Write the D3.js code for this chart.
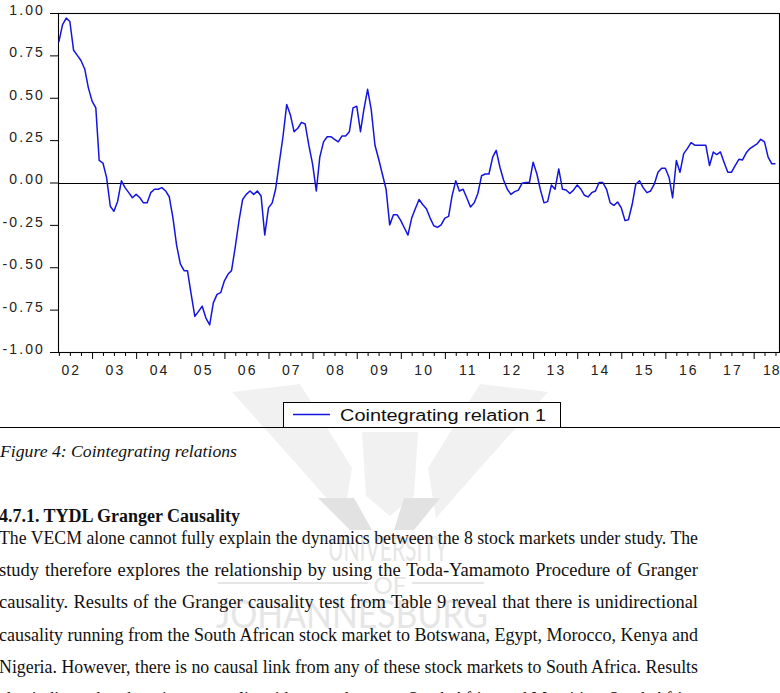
<!DOCTYPE html>
<html><head><meta charset="utf-8">
<script src="https://cdn.jsdelivr.net/npm/d3@7"></script>
<style>body{margin:0;background:#fff;overflow:hidden} svg{display:block}</style>
</head><body>
<svg id="c" width="780" height="693"></svg>
<script>
// ---- data (monthly observations, first = 2002M04) ----
const firstObs = [2002, 4];
const values = [
 0.83,0.93,0.97,0.95,0.78,0.75,0.72,0.67,0.56,0.48,0.44,0.13,
 0.115,0.03,-0.14,-0.17,-0.11,0.01,-0.03,-0.06,-0.09,-0.07,-0.09,-0.12,
 -0.12,-0.06,-0.04,-0.04,-0.03,-0.05,-0.084,-0.21,-0.37,-0.48,-0.52,-0.52,
 -0.66,-0.79,-0.76,-0.73,-0.80,-0.84,-0.71,-0.66,-0.65,-0.58,-0.54,-0.52,
 -0.38,-0.23,-0.10,-0.07,-0.05,-0.07,-0.05,-0.08,-0.31,-0.15,-0.12,-0.04,
 0.12,0.27,0.46,0.40,0.30,0.32,0.355,0.345,0.22,0.11,-0.05,0.15,
 0.24,0.27,0.27,0.255,0.24,0.275,0.275,0.30,0.44,0.45,0.30,0.43,
 0.55,0.43,0.22,0.14,0.05,-0.04,-0.25,-0.19,-0.19,-0.225,-0.27,-0.31,
 -0.21,-0.155,-0.10,-0.13,-0.155,-0.21,-0.255,-0.265,-0.25,-0.21,-0.20,-0.08,
 0.01,-0.05,-0.04,-0.09,-0.145,-0.12,-0.065,0.04,0.05,0.05,0.15,0.19,
 0.09,0.015,-0.04,-0.07,-0.054,-0.045,-0.005,0.00,0.00,0.12,0.05,-0.04,
 -0.12,-0.113,-0.015,-0.04,0.08,-0.04,-0.044,-0.065,-0.045,-0.015,-0.04,-0.075,
 -0.085,-0.06,-0.05,0.00,0.00,-0.04,-0.12,-0.135,-0.115,-0.15,-0.225,-0.22,
 -0.13,-0.01,0.01,-0.03,-0.06,-0.05,-0.01,0.06,0.084,0.084,0.03,-0.09,
 0.13,0.06,0.17,0.20,0.235,0.22,0.22,0.22,0.22,0.10,0.18,0.165,
 0.18,0.12,0.06,0.06,0.10,0.137,0.133,0.175,0.20,0.215,0.23,0.255,
 0.24,0.15,0.11,0.11
];
const yTicks = [1.00, 0.75, 0.50, 0.25, 0.00, -0.25, -0.50, -0.75, -1.00];
const yearLabels = ["02","03","04","05","06","07","08","09","10","11","12","13","14","15","16","17","18"];
const seriesName = "Cointegrating relation 1";
const caption = "Figure 4: Cointegrating relations";
const heading = "4.7.1. TYDL Granger Causality";
const paragraph = [
 "The VECM alone cannot fully explain the dynamics between the 8 stock markets under study. The",
 "study therefore explores the relationship by using the Toda-Yamamoto Procedure of Granger",
 "causality. Results of the Granger causality test from Table 9 reveal that there is unidirectional",
 "causality running from the South African stock market to Botswana, Egypt, Morocco, Kenya and",
 "Nigeria. However, there is no causal link from any of these stock markets to South Africa. Results",
 "also indicate that there is no causality either way between South Africa and Mauritius. South Africa"
];
const watermark = ["UNIVERSITY", "OF", "JOHANNESBURG"];

// ---- build ----
const svg = d3.select("#c");
const series = values.map((v, i) => ({date: new Date(firstObs[0], firstObs[1] - 1 + i, 1), v}));

const plot = {left: 58, right: 779, top: 13, bottom: 352};
const x = d3.scaleTime()
  .domain([new Date(2002, 0, 1), new Date(2019, 0, 1)])
  .range([48, 48 + 17 * 44.1]);
const y = d3.scaleLinear().domain([-1, 1]).range([plot.bottom, plot.top]);

// watermark (behind everything)
const wm = svg.append("g").attr("fill", "#e6e6e6").attr("font-family", "Lato, 'Open Sans', sans-serif");
wm.append("path").attr("fill", "#f1f1f1")
  .attr("d", "M232,392 L300,384 L352,468 L344,518 L300,468 Z M548,392 L480,384 L428,468 L436,518 L480,468 Z M362,432 L418,432 L414,496 L390,516 L366,496 Z");
wm.append("path").attr("fill", "#e2e2e2")
  .attr("d", "M318,498 L354,498 L372,530 L350,530 Z M404,498 L440,498 L414,530 L394,530 Z");
wm.append("text").attr("x", 388).attr("y", 561).attr("text-anchor", "middle")
  .attr("font-size", 34).attr("textLength", 120).attr("lengthAdjust", "spacingAndGlyphs").text(watermark[0]);
wm.append("text").attr("x", 390).attr("y", 594).attr("text-anchor", "middle")
  .attr("font-size", 24).text(watermark[1]);
wm.append("rect").attr("x", 218).attr("y", 582).attr("width", 150).attr("height", 2);
wm.append("rect").attr("x", 412).attr("y", 582).attr("width", 72).attr("height", 2);
wm.append("text").attr("x", 352).attr("y", 628).attr("text-anchor", "middle")
  .attr("font-size", 38).attr("textLength", 272).attr("lengthAdjust", "spacingAndGlyphs").text(watermark[2]);

// axes
const fontAxis = "'Liberation Sans', Arial, sans-serif";
const yAxis = d3.axisLeft(y).tickValues(yTicks).tickSize(8).tickPadding(0)
  .tickFormat(d => d.toFixed(2));
const gy = svg.append("g").attr("transform", `translate(${plot.left},0)`).call(yAxis);
gy.select(".domain").remove();
gy.selectAll(".tick line").attr("stroke", "#000");
gy.selectAll(".tick text").attr("x", -13).attr("dy", "0.1em")
  .attr("font-family", fontAxis).attr("font-size", 14).attr("letter-spacing", "2.1px").attr("fill", "#222");

const yearStarts = d3.range(2003, 2019).map(yr => new Date(yr, 0, 1));
const quarters = [];
for (let yr = 2002; yr <= 2018; yr++) for (const m of [3, 6, 9]) {
  const d = new Date(yr, m, 1);
  if (x(d) >= plot.left - 0.5 && x(d) <= plot.right) quarters.push(d);
}
const gxMinor = svg.append("g").attr("transform", `translate(0,${plot.bottom})`)
  .call(d3.axisBottom(x).tickValues(quarters).tickSize(4).tickFormat(""));
const gxMajor = svg.append("g").attr("transform", `translate(0,${plot.bottom})`)
  .call(d3.axisBottom(x).tickValues(yearStarts).tickSize(7).tickFormat(""));
const midYears = yearLabels.map(s => new Date(2000 + (+s), 6, 1));
const gxLab = svg.append("g").attr("transform", `translate(0,${plot.bottom})`)
  .call(d3.axisBottom(x).tickValues(midYears).tickSize(0).tickPadding(13)
    .tickFormat((d, i) => yearLabels[i]));
[gxMinor, gxMajor, gxLab].forEach(g => { g.select(".domain").remove(); g.selectAll("line").attr("stroke", "#000"); });
gxLab.selectAll("text").attr("font-family", fontAxis).attr("font-size", 14)
  .attr("letter-spacing", "2.1px").attr("dx", "1px").attr("fill", "#222");
// keep the last label inside the picture
gxLab.selectAll(".tick").filter((d, i) => i === yearLabels.length - 1).select("text")
  .attr("text-anchor", "end").attr("letter-spacing", "1px").attr("x", 779 - x(midYears[midYears.length - 1]));

// frame and zero line
svg.append("rect").attr("x", plot.left + 0.5).attr("y", plot.top + 0.5)
  .attr("width", plot.right - plot.left).attr("height", plot.bottom - plot.top)
  .attr("fill", "none").attr("stroke", "#000").attr("stroke-width", 1.1);
svg.append("line").attr("x1", plot.left).attr("x2", plot.right)
  .attr("y1", Math.round(y(0)) + 0.5).attr("y2", Math.round(y(0)) + 0.5)
  .attr("stroke", "#000").attr("stroke-width", 1);

// series line
svg.append("defs").append("clipPath").attr("id", "clip").append("rect")
  .attr("x", plot.left).attr("y", plot.top).attr("width", plot.right - plot.left).attr("height", plot.bottom - plot.top);
svg.append("path").datum(series).attr("clip-path", "url(#clip)")
  .attr("fill", "none").attr("stroke", "#1414e0").attr("stroke-width", 1.5).attr("stroke-linejoin", "round")
  .attr("d", d3.line().x(d => x(d.date)).y(d => y(d.v)));

// legend
const lg = svg.append("g");
lg.append("line").attr("x1", 0).attr("x2", 780).attr("y1", 427.5).attr("y2", 427.5).attr("stroke", "#000");
lg.append("rect").attr("x", 283.5).attr("y", 402.5).attr("width", 277).attr("height", 25)
  .attr("fill", "#fff").attr("stroke", "#000");
lg.append("line").attr("x1", 293).attr("x2", 330).attr("y1", 414.5).attr("y2", 414.5)
  .attr("stroke", "#1414e0").attr("stroke-width", 1.4);
lg.append("text").attr("x", 340).attr("y", 420.5).attr("font-family", fontAxis).attr("font-size", 16)
  .attr("fill", "#111").attr("textLength", 206).attr("lengthAdjust", "spacingAndGlyphs").text(seriesName);

// caption & body text
const serif = "'Liberation Serif', 'Times New Roman', serif";
svg.append("text").attr("x", 0).attr("y", 457).attr("font-family", serif).attr("font-style", "italic")
  .attr("font-size", 17.5).attr("fill", "#111").attr("textLength", 237).attr("lengthAdjust", "spacingAndGlyphs").text(caption);
svg.append("text").attr("x", -1).attr("y", 522).attr("font-family", serif).attr("font-weight", "bold")
  .attr("font-size", 18.5).attr("fill", "#111").attr("textLength", 241).attr("lengthAdjust", "spacingAndGlyphs").text(heading);

const body = svg.append("g").attr("font-family", serif).attr("font-size", 18.5).attr("fill", "#111");
paragraph.forEach((line, i) => {
  const t = body.append("text").attr("x", -1).attr("y", 544 + i * 32.2).text(line);
  const natural = t.node().getComputedTextLength();
  const spaces = (line.match(/ /g) || []).length;
  const target = 699;
  const ws = (target - natural) / spaces;
  if (ws >= 0) t.attr("word-spacing", ws + "px");
  else t.attr("textLength", target).attr("lengthAdjust", "spacingAndGlyphs");
});
</script>
</body></html>
